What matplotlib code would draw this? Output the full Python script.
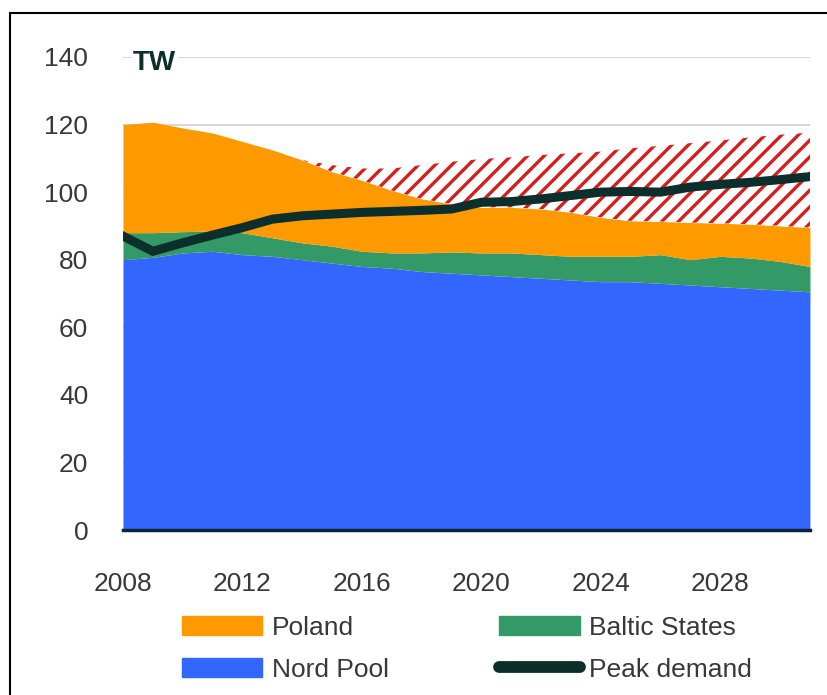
import numpy as np
import matplotlib.pyplot as plt
from matplotlib.patches import Patch, Rectangle
from matplotlib.lines import Line2D

plt.rcParams['font.family'] = ['Liberation Sans', 'DejaVu Sans']
plt.rcParams['hatch.linewidth'] = 2.4

# datos (TW)
years = np.arange(2008, 2032)
nord_pool = [80, 80.7, 82, 82.5, 81.5, 81, 80, 79, 78, 77.5, 76.5, 76,
             75.5, 75, 74.5, 74, 73.5, 73.5, 73, 72.5, 72, 71.5, 71, 70.5]
baltic = [8, 7.3, 6.3, 6, 6.5, 5.5, 5, 5, 4.5, 4.5, 5.5, 6.3,
          6.5, 7, 7, 7, 7.5, 7.5, 8.5, 7.5, 9, 9, 8.5, 7.5]
poland = [32, 32.7, 30.7, 29, 27, 26, 24.5, 22, 21, 18.5, 16, 14.2,
          13.5, 13.5, 13.5, 13, 11.5, 10.5, 9.8, 11, 9.8, 10, 10.5, 11.5]
hatched_margin = [0, 0, 0, 0, 0, 0, 0, 2, 3.5, 6.5, 10, 12.5,
                  14.3, 14.8, 16, 17.5, 19.5, 21.5, 22.4, 23.5, 24.5, 25.7, 27, 28.1]
peak_demand = [87, 82.5, 85, 87.3, 89.5, 92, 93, 93.5, 94, 94.3, 94.6, 95,
               97, 97.2, 98, 99, 100, 100.2, 100, 101.5, 102.3, 102.9, 103.7, 104.6]

year_ticks = [2008, 2012, 2016, 2020, 2024, 2028]
y_ticks = [0, 20, 40, 60, 80, 100, 120, 140]

c_orange = '#ff9900'
c_green = '#339966'
c_blue = '#3366ff'
c_line = '#0c2f2b'
c_red = '#d41f1f'
c_text = '#383838'

top1 = np.array(nord_pool)
top2 = top1 + np.array(baltic)
top3 = top2 + np.array(poland)
top4 = top3 + np.array(hatched_margin)

fig = plt.figure(figsize=(8.27, 6.95), dpi=100)
ax = fig.add_axes([0.1487, 0.2374, 0.8307, 0.6806])

ax.fill_between(years, 0, top1, color=c_blue, lw=0, zorder=2)
ax.fill_between(years, top1, top2, color=c_green, lw=0, zorder=2)
ax.fill_between(years, top2, top3, color=c_orange, lw=0, zorder=2)
ax.fill_between(years, top3, top4, facecolor='white', edgecolor=c_red,
                hatch='//', lw=0, zorder=2)
ax.plot(years, peak_demand, color=c_line, lw=6.5, solid_joinstyle='miter', zorder=3)

ax.set_xlim(2008, 2031)
ax.set_ylim(0, 140)
ax.set_yticks(y_ticks)
ax.set_xticks(year_ticks)
ax.tick_params(axis='both', length=0, labelsize=19, colors=c_text)
ax.tick_params(axis='y', pad=25)
ax.tick_params(axis='x', pad=30)
ax.grid(axis='y', color='#cfcfcf', lw=1.2)
ax.set_axisbelow(True)
for s in ['left', 'right', 'top']:
    ax.spines[s].set_visible(False)
ax.spines['bottom'].set_color('#102338')
ax.spines['bottom'].set_linewidth(2.5)
ax.spines['bottom'].set_zorder(4)

ax.text(0.0146, 138.3, 'TW', transform=ax.get_yaxis_transform(),
        fontweight='bold', fontsize=20, color=c_line, va='center', ha='left',
        bbox=dict(facecolor='white', edgecolor='none', pad=1), zorder=5)

handles = [Patch(color=c_orange, label='Poland'),
           Patch(color=c_blue, label='Nord Pool'),
           Patch(color=c_green, label='Baltic States'),
           Line2D([], [], color=c_line, lw=8.5, solid_capstyle='round', label='Peak demand')]
fig.legend(handles=handles, ncol=2, loc='upper left', bbox_to_anchor=(0.22, 0.114),
           frameon=False, fontsize=19, handlelength=3.05, handleheight=0.76,
           handletextpad=0.35, columnspacing=4.2, labelspacing=0.68, borderpad=0,
           borderaxespad=0, labelcolor=c_text)

# marco exterior
fig.add_artist(Rectangle((10 / 827, -0.1), 1.2, 1.1 - 13 / 695, transform=fig.transFigure,
                         fill=False, edgecolor='black', lw=1.5))

fig.savefig('out.png', dpi=100)
